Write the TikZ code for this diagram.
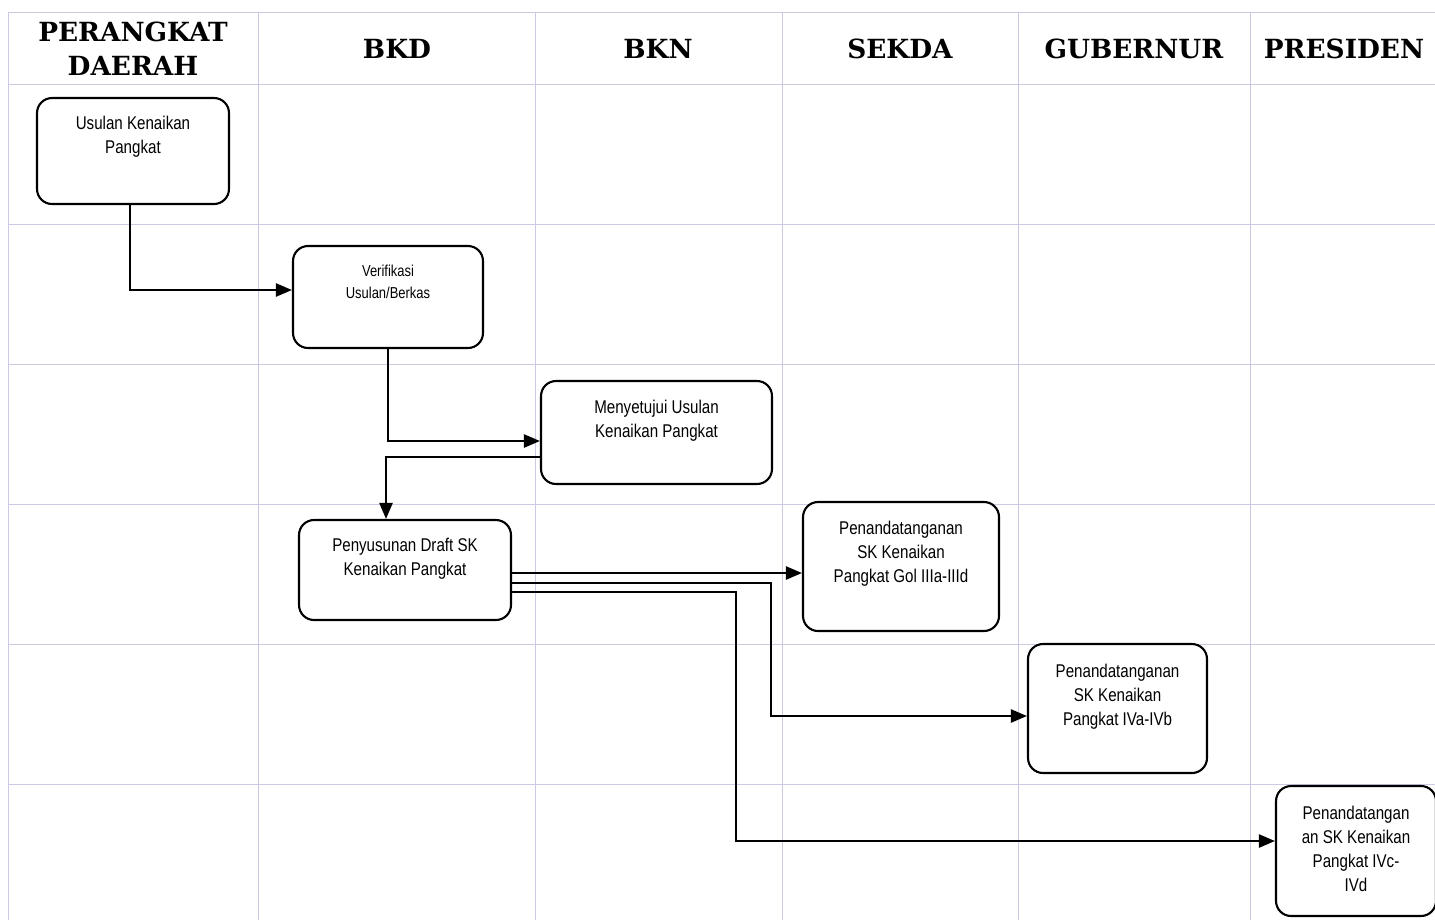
\documentclass[tikz,border=0pt]{standalone}
\usepackage{fontspec}
\usepackage{tikz}
\usetikzlibrary{positioning}
\usetikzlibrary{arrows.meta}
\newfontfamily\headfont{DejaVu Serif}
\newfontfamily\boxfont[FakeStretch=0.82]{Liberation Sans}
\definecolor{gridline}{RGB}{208,200,226}
\tikzset{gridrule/.style={gridline,line width=0.5pt},
    head/.style={font=\headfont\bfseries\fontsize{15}{19.3}\selectfont,align=center},
    stepbox/.style={draw,line width=1.2pt,rounded corners=0.3cm,fill=white},
    boxtext/.style={font=\boxfont\fontsize{10.5}{13.6}\selectfont,align=center,inner sep=0pt,anchor=north},
    flow/.style={-{Triangle[length=0.32cm,width=0.26cm]},line width=1.3pt}
}
\begin{document}
\begin{tikzpicture}[x=0.02cm,y=-0.02cm]
      \useasboundingbox (0,0) rectangle (1435,920);
      \foreach \x in {8,258,535,782,1018,1250}
        \draw[gridrule] (\x,12) -- (\x,920);
      \foreach \y in {12,84,224,364,504,644,784}
        \draw[gridrule] (8,\y) -- (1435,\y);
      \node[head] (h1) at (133,49) {PERANGKAT\\DAERAH};
      \node[head] (h2) at (397,49) {BKD};
      \node[head] (h3) at (658,49) {BKN};
      \node[head] (h4) at (900,49) {SEKDA};
      \node[head] (h5) at (1134,49) {GUBERNUR};
      \node[head] (h6) at (1344,49) {PRESIDEN};
      \node[stepbox,minimum width=3.84cm,minimum height=2.12cm] (b1) at (133,151) {};
      \node[stepbox,minimum width=3.8cm,minimum height=2.04cm] (b2) at (388,297) {};
      \node[stepbox,minimum width=4.62cm,minimum height=2.06cm] (b3) at (656.5,432.5) {};
      \node[stepbox,minimum width=4.24cm,minimum height=2cm] (b4) at (405,570) {};
      \node[stepbox,minimum width=3.92cm,minimum height=2.58cm] (b5) at (901,566.5) {};
      \node[stepbox,minimum width=3.58cm,minimum height=2.58cm] (b6) at (1117.5,708.5) {};
      \node[stepbox,minimum width=3.2cm,minimum height=2.6cm] (b7) at (1356,851) {};
      \node[boxtext,below=0.38cm of b1.north] (t1) {Usulan Kenaikan\\Pangkat};
      \node[boxtext,below=0.4cm of b2.north,font=\boxfont\fontsize{9}{12.4}\selectfont] (t2) {Verifikasi\\Usulan/Berkas};
      \node[boxtext,below=0.4cm of b3.north] (t3) {Menyetujui Usulan\\Kenaikan Pangkat};
      \node[boxtext,below=0.38cm of b4.north] (t4) {Penyusunan Draft SK\\Kenaikan Pangkat};
      \node[boxtext,below=0.4cm of b5.north] (t5) {Penandatanganan\\SK Kenaikan\\Pangkat Gol IIIa-IIId};
      \node[boxtext,below=0.42cm of b6.north] (t6) {Penandatanganan\\SK Kenaikan\\Pangkat IVa-IVb};
      \node[boxtext,below=0.42cm of b7.north] (t7) {Penandatangan\\an SK Kenaikan\\Pangkat IVc-\\IVd};
      \coordinate (s1) at ([yshift=-0.06cm]b4.east);
      \coordinate (s2) at ([yshift=-0.26cm]b4.east);
      \coordinate (s3) at ([yshift=-0.44cm]b4.east);
      \coordinate (e2) at ([yshift=-0.15cm]b6.west);
      \coordinate (e3) at ([yshift=0.2cm]b7.west);
      \draw[flow] ([xshift=-0.06cm]b1.south) |- ([yshift=0.14cm]b2.west);
      \draw[flow] (b2.south) |- ([yshift=-0.17cm]b3.west);
      \draw[flow] ([yshift=-0.49cm]b3.west) -| ([xshift=-0.38cm]b4.north);
      \draw[flow] (s1) -- (s1 -| b5.west);
      \draw[flow] (s2) -- ++(5.18cm,0) |- (e2);
      \draw[flow] (s3) -- ++(4.48cm,0) |- (e3);
\end{tikzpicture}
\end{document}
